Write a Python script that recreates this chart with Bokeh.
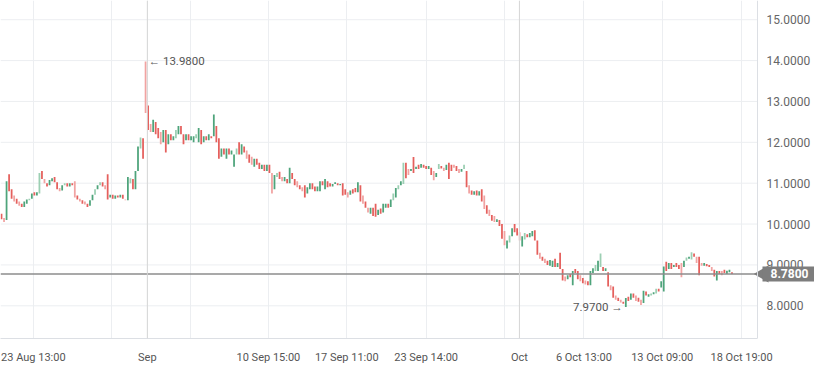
from bokeh.plotting import figure
from bokeh.models import (Range1d, FixedTicker, Span, Label, ColumnDataSource,
                          NumeralTickFormatter)
from bokeh.embed import file_html
from bokeh.resources import INLINE
from bokeh.core.properties import value

# ---- data ----
opens = [
    10.25, 10.15, 10.10, 11.22, 10.85, 10.70, 10.62, 10.55, 10.50, 10.42,
    10.50, 10.58, 10.62, 10.78, 10.70, 10.75, 11.30, 11.10, 11.00, 10.95,
    11.05, 11.15, 11.02, 10.88, 10.82, 10.95, 11.00, 10.92, 11.00, 11.05,
    10.70, 10.62, 10.58, 10.55, 10.50, 10.45, 10.58, 10.72, 10.85, 10.95,
    11.02, 10.95, 11.22, 10.65, 10.72, 10.62, 10.70, 10.65, 10.72, 10.60,
    10.58, 11.00, 11.10, 10.85, 11.30, 11.85, 12.10, 13.98, 12.90, 12.45,
    12.25, 12.50, 12.35, 12.25, 12.00, 12.30, 11.95, 12.20, 12.05, 12.10,
    12.20, 12.40, 12.20, 12.05, 12.20, 12.05, 12.00, 12.10, 12.00, 12.30,
    12.00, 12.15, 12.05, 12.15, 12.15, 12.40, 12.10, 11.65, 11.85, 11.60,
    11.85, 11.70, 11.40, 11.70, 12.00, 11.70, 11.90, 11.80, 11.70, 11.65,
    11.40, 11.60, 11.50, 11.35, 11.45, 11.30, 11.45, 11.25, 10.85, 11.15,
    11.28, 11.15, 11.05, 11.10, 11.00, 11.25, 11.10, 11.05, 10.95, 10.90,
    10.95, 10.75, 10.85, 11.00, 10.92, 10.80, 10.80, 11.05, 10.85, 11.05,
    11.00, 10.92, 10.98, 11.00, 10.95, 11.00, 10.85, 10.78, 10.72, 10.85,
    10.88, 10.78, 10.95, 10.70, 10.55, 10.40, 10.25, 10.40, 10.50, 10.22,
    10.38, 10.28, 10.40, 10.50, 10.42, 10.58, 10.65, 10.85, 10.95, 10.98,
    11.50, 11.35, 11.30, 11.64, 11.35, 11.45, 11.38, 11.45, 11.42, 11.35,
    11.38, 11.30, 11.15, 11.35, 11.42, 11.38, 11.32, 11.50, 11.45, 11.45,
    11.42, 11.35, 11.28, 11.35, 11.30, 10.95, 10.82, 10.72, 10.82, 10.70,
    10.85, 10.70, 10.46, 10.35, 10.22, 10.20, 10.05, 10.10, 10.00, 9.83,
    9.40, 9.55, 9.70, 10.00, 9.90, 9.80, 9.45, 9.62, 9.75, 9.68,
    9.70, 9.85, 9.60, 9.30, 9.20, 9.15, 9.10, 8.98, 8.95, 9.15,
    8.95, 9.30, 8.90, 8.72, 8.65, 8.78, 8.50, 8.90, 8.85, 8.75,
    8.68, 8.62, 8.60, 8.50, 8.80, 8.85, 8.85, 8.95, 8.95, 8.85,
    8.82, 8.50, 8.47, 8.25, 8.20, 8.15, 8.10, 7.97, 8.22, 8.15,
    8.30, 8.25, 8.20, 8.15, 8.07, 8.35, 8.22, 8.25, 8.28, 8.30,
    8.42, 8.45, 8.35, 9.08, 8.90, 9.05, 8.95, 9.05, 9.00, 9.05,
    8.95, 9.10, 9.15, 9.13, 9.28, 9.20, 9.20, 9.05, 8.98, 9.02,
    9.00, 8.95, 8.88, 8.62, 8.85, 8.85, 8.88, 8.78, 8.82, 8.82,
]
closes = [
    10.12, 10.05, 11.05, 10.80, 10.62, 10.55, 10.50, 10.45, 10.42, 10.55,
    10.60, 10.62, 10.75, 10.70, 10.78, 11.25, 11.10, 11.00, 10.92, 11.08,
    11.12, 11.02, 10.85, 10.80, 10.95, 11.00, 10.92, 11.00, 10.95, 10.65,
    10.60, 10.55, 10.50, 10.48, 10.42, 10.58, 10.72, 10.85, 10.95, 11.02,
    10.92, 10.85, 10.60, 10.72, 10.62, 10.70, 10.65, 10.72, 10.62, 10.58,
    11.15, 11.12, 10.85, 11.30, 11.90, 12.12, 11.60, 12.72, 12.30, 12.25,
    12.55, 12.20, 12.10, 11.95, 12.30, 11.75, 12.20, 12.05, 12.15, 12.30,
    12.40, 12.20, 11.95, 12.20, 12.05, 12.15, 12.15, 12.20, 12.35, 11.95,
    12.15, 12.05, 12.20, 12.10, 12.68, 12.00, 11.60, 11.85, 11.70, 11.85,
    11.70, 11.80, 11.70, 11.85, 11.70, 11.95, 11.75, 11.60, 11.50, 11.45,
    11.60, 11.45, 11.35, 11.45, 11.30, 11.45, 11.25, 10.75, 11.20, 11.25,
    11.10, 11.05, 11.15, 11.00, 11.38, 11.10, 10.95, 10.90, 10.85, 10.80,
    10.65, 10.90, 11.00, 10.85, 10.80, 10.92, 11.05, 10.95, 11.10, 10.90,
    10.92, 10.98, 11.02, 10.95, 10.98, 10.70, 10.72, 10.65, 10.82, 10.75,
    10.78, 11.02, 10.55, 10.50, 10.40, 10.28, 10.40, 10.20, 10.18, 10.35,
    10.25, 10.50, 10.50, 10.40, 10.60, 10.75, 10.88, 10.95, 11.05, 11.50,
    11.12, 11.20, 11.35, 11.25, 11.40, 11.35, 11.47, 11.38, 11.35, 11.42,
    11.20, 11.07, 11.25, 11.47, 11.36, 11.30, 11.45, 11.10, 11.30, 11.38,
    11.30, 11.25, 11.35, 11.45, 10.90, 10.75, 10.72, 10.80, 10.70, 10.80,
    10.55, 10.37, 10.25, 10.20, 10.08, 10.05, 10.12, 9.95, 9.64, 9.48,
    9.60, 9.72, 9.90, 9.80, 9.72, 9.60, 9.70, 9.78, 9.68, 9.78,
    9.83, 9.60, 9.25, 9.15, 9.10, 9.05, 9.00, 9.12, 9.10, 8.95,
    9.05, 8.90, 8.62, 8.60, 8.75, 8.70, 8.85, 8.80, 8.65, 8.60,
    8.55, 8.52, 8.50, 8.85, 8.92, 9.00, 9.10, 9.28, 8.85, 8.92,
    8.47, 8.38, 8.20, 8.15, 8.12, 8.08, 8.05, 8.19, 8.12, 8.30,
    8.20, 8.12, 8.10, 8.02, 8.37, 8.25, 8.28, 8.30, 8.33, 8.42,
    8.35, 8.60, 8.96, 8.85, 9.05, 8.90, 9.00, 8.95, 8.90, 8.70,
    9.10, 9.18, 9.20, 9.31, 9.20, 9.05, 8.75, 8.98, 9.05, 8.97,
    8.95, 8.85, 8.72, 8.85, 8.78, 8.75, 8.80, 8.86, 8.88, 8.78,
]
x_tick_pos = [12.6, 43.6, 57.7, 74.6, 105.6, 136.6, 168.0, 199.0, 204.9, 230.4, 261.4, 292.8]
x_tick_labels = ["23 Aug 13:00", "", "Sep", "", "10 Sep 15:00", "17 Sep 11:00",
                 "23 Sep 14:00", "", "Oct", "6 Oct 13:00", "13 Oct 09:00", "18 Oct 19:00"]
month_starts = [57.7, 204.9]
y_ticks = [8, 9, 10, 11, 12, 13, 14, 15]
last_price = 8.78

# ---- layout / styling ----
RED, PINK = "#e5605d", "#f1a3a2"
GREEN, LGREEN = "#4ea47b", "#9ccfb3"
GRID = "#eceef1"
AXIS = "#dcdfe4"
FONT = "Roboto"
W, H, BOTTOM = 814, 366, 22
X0, X_AXIS, X1 = -0.4, 299.1, 321.65   # plotting area ends at X_AXIS, price scale to the right

n = len(opens)
idx = list(range(n))
tops = [max(o, c) for o, c in zip(opens, closes)]
bots = [min(o, c) for o, c in zip(opens, closes)]
colors = []
prev_up = None
for o, c in zip(opens, closes):
    up = c >= o
    light = (prev_up is not None and up == prev_up and len(colors) % 2 == 1)
    if up:
        colors.append(LGREEN if light else GREEN)
    else:
        colors.append(PINK if light else RED)
    prev_up = up

src = ColumnDataSource(dict(x=idx, top=tops, bottom=bots, color=colors))

p = figure(width=W, height=H, x_range=Range1d(X0, X1), y_range=Range1d(7.2, 15.47),
           output_backend="svg", toolbar_location=None, y_axis_location="right",
           min_border_left=0, min_border_top=0, min_border_right=0, min_border_bottom=BOTTOM)
p.outline_line_color = None
p.background_fill_color = "white"

# grids
p.xgrid.ticker = FixedTicker(ticks=x_tick_pos)
p.xgrid.grid_line_color = GRID
p.ygrid.grid_line_color = None
p.segment(x0=[X0] * len(y_ticks), x1=[X_AXIS] * len(y_ticks), y0=y_ticks, y1=y_ticks,
          line_color=GRID, line_width=1)

for loc in month_starts:
    p.add_layout(Span(location=loc, dimension="height", line_color="#d6d6d6", line_width=1))

# x axis
xa = p.xaxis[0]
xa.ticker = FixedTicker(ticks=x_tick_pos)
xa.major_label_overrides = {pos: lab for pos, lab in zip(x_tick_pos, x_tick_labels)}
xa.bounds = (X0, X_AXIS)
xa.axis_line_color = AXIS
xa.major_tick_line_color = None
xa.minor_tick_line_color = None
xa.major_label_text_font = FONT
xa.major_label_text_font_size = "11px"
xa.major_label_text_color = "#555555"
xa.major_label_standoff = 6

# price axis, fixed at the end of the plotting area
ya = p.yaxis[0]
ya.fixed_location = X_AXIS
ya.ticker = FixedTicker(ticks=y_ticks)
ya.formatter = NumeralTickFormatter(format="0.0000")
ya.axis_line_color = AXIS
ya.major_tick_line_color = None
ya.minor_tick_line_color = None
ya.major_label_text_font = FONT
ya.major_label_text_font_size = "12px"
ya.major_label_text_color = "#666666"
ya.major_label_standoff = 3

# candles
p.vbar(x="x", width=0.7, top="top", bottom="bottom", fill_color="color",
       line_color=None, source=src)

# last price line + tag
p.segment(x0=[X0], x1=[X1], y0=[last_price], y1=[last_price], line_color="#8c8c8c", line_width=1.5)
p.scatter(x=[X_AXIS + 2.4], y=[last_price], marker="triangle", angle=1.5708, size=17,
          fill_color="#7d7d7d", line_color=None)
tag = Label(x=X_AXIS, y=last_price, x_offset=5, text=f"{last_price:.4f}", text_color="white",
            text_font=FONT, text_font_size="12px", text_font_style="bold",
            text_baseline="middle", text_align="left",
            background_fill_color="#7d7d7d",
            padding=dict(left=8, right=14, top=3, bottom=3))
p.add_layout(tag)

# high / low annotations
hi_i = max(idx, key=lambda i: tops[i])
lo_i = min(idx, key=lambda i: bots[i])
p.text(x=[hi_i], y=[tops[hi_i]], text=[f"\u2190 {tops[hi_i]:.4f}"], x_offset=3,
       text_font=value(FONT), text_font_size="11.5px", text_color="#555555",
       text_baseline="middle", text_align="left")
p.text(x=[lo_i], y=[bots[lo_i]], text=[f"{bots[lo_i]:.4f} \u2192"], x_offset=-3,
       text_font=value(FONT), text_font_size="11.5px", text_color="#555555",
       text_baseline="middle", text_align="right")

open("out.html", "w").write(file_html(p, INLINE))
